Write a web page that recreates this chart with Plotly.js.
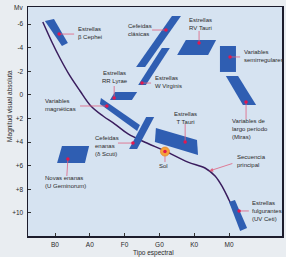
<!DOCTYPE html>
<html>
<head>
<meta charset="utf-8">
<script src="https://cdn.plot.ly/plotly-3.0.1.min.js"></script>
<style>html,body{margin:0;padding:0;background:#e9edf1;}#chart{width:286px;height:257px;}</style>
</head>
<body>
<div id="chart"></div>
<script>
// ---- Data (spectral type index: B0=0 ... M0=5 ; absolute visual magnitude) ----
const spectralTicks = [0, 1, 2, 3, 4, 5];
const spectralLabels = ['B0', 'A0', 'F0', 'G0', 'K0', 'M0'];
const magTicks = [-6, -4, -2, 0, 2, 4, 6, 8, 10];
const magLabels = ['-6', '-4', '-2', '0', '+2', '+4', '+6', '+8', '+10'];

// Main sequence
const msX = [-0.35, -0.09, 0.14, 0.43, 0.72, 1.03, 1.38, 1.72, 2.10, 2.64, 3.16, 3.82, 4.31, 4.60, 4.83, 5.00, 5.14];
const msY = [-6.17, -4.48, -3.12, -1.60, -0.33, 0.94, 1.79, 2.47, 3.31, 4.08, 4.75, 5.69, 6.19, 6.87, 7.89, 8.90, 9.75];

// Sun
const sunX = [3.16];
const sunY = [4.80];

// Variable-star regions (corner points)
const betaCepX = [-0.29, -0.03, 0.37, 0.20];  const betaCepY = [-6.25, -6.42, -4.39, -4.14];
const cefClasX = [3.36, 3.62, 2.59, 2.33];    const cefClasY = [-6.68, -6.68, -2.36, -2.36];
const wVirX = [3.07, 3.30, 2.61, 2.39];       const wVirY = [-3.97, -3.97, -0.83, -0.83];
const rvTauX = [3.76, 4.63, 4.40, 3.51];      const rvTauY = [-4.65, -4.65, -3.38, -3.38];
const semiregX = [4.74, 5.20, 5.20, 4.74];    const semiregY = [-4.14, -4.14, -1.94, -1.94];
const mirasX = [4.91, 5.26, 5.78, 5.40];      const mirasY = [-1.60, -1.60, 0.86, 0.86];
const rrLyrX = [1.72, 2.36, 2.21, 1.58];      const rrLyrY = [-0.24, -0.24, 0.44, 0.44];
const magnetX = [1.32, 2.44, 2.36, 1.29];     const magnetY = [0.27, 2.55, 3.06, 0.77];
const deltaScuX = [2.62, 2.85, 2.36, 2.13];   const deltaScuY = [1.88, 1.88, 4.59, 4.59];
const tTauX = [2.90, 4.08, 4.11, 2.87];       const tTauY = [2.81, 3.82, 5.09, 3.99];
const novasX = [0.20, 0.98, 0.86, 0.06];      const novasY = [4.33, 4.33, 5.77, 5.77];
const uvCetX = [5.00, 5.17, 5.52, 5.32];      const uvCetY = [9.07, 8.90, 11.27, 11.53];

// Red marker dot in each region
const dotX = [0.12, 3.19, 2.50, 4.14, 5.03, 5.49, 1.70, 1.49, 2.24, 3.74, 0.37, 5.29];
const dotY = [-5.15, -5.49, -1.00, -4.39, -3.21, 0.61, 0.27, 0.94, 4.08, 3.99, 5.43, 9.83];

// ---- Labels (text, anchor position, leader line) ----
const FONT = 'Liberation Sans, Arial, sans-serif';
const labels = [
  {t: 'Estrellas<br>β Cephei', x: 0.60, y: -5.28, a: 'left', l: [0.12, -5.15, 0.55, -5.15]},
  {t: 'Cefeidas<br>clásicas', x: 2.04, y: -5.53, a: 'left', l: [3.19, -5.49, 2.79, -5.49]},
  {t: 'Estrellas<br>W Virginis', x: 2.82, y: -1.05, a: 'left', l: [2.50, -1.00, 2.76, -1.00]},
  {t: 'Estrellas<br>RV Tauri', x: 4.17, y: -6.04, a: 'center', l: [4.14, -4.39, 4.14, -5.41]},
  {t: 'Variables<br>semirregulares', x: 5.37, y: -3.25, a: 'left', l: [5.03, -3.21, 5.32, -3.21]},
  {t: 'Variables de<br>largo período<br>(Miras)', x: 5.03, y: 2.93, a: 'left', l: [5.49, 0.61, 5.49, 2.04]},
  {t: 'Estrellas<br>RR Lyrae', x: 1.71, y: -1.55, a: 'center', l: [1.70, 0.27, 1.70, -0.75]},
  {t: 'Variables<br>magnéticas', x: -0.34, y: 0.86, a: 'left', l: [1.49, 0.94, 0.72, 0.94]},
  {t: 'Cefeidas<br>enanas<br>(δ Scuti)', x: 1.09, y: 4.33, a: 'left', l: [2.24, 4.08, 1.81, 4.08]},
  {t: 'Estrellas<br>T Tauri', x: 3.76, y: 1.96, a: 'center', l: [3.74, 3.99, 3.74, 2.47]},
  {t: 'Novas enanas<br>(U Geminorum)', x: -0.34, y: 7.38, a: 'left', l: [0.37, 5.43, 0.34, 6.87]},
  {t: 'Estrellas<br>fulgurantes<br>(UV Ceti)', x: 5.60, y: 9.83, a: 'left', l: [5.29, 9.83, 5.57, 9.83]},
  {t: 'Sol', x: 3.13, y: 6.02, a: 'center', l: [3.16, 5.18, 3.16, 5.69]},
  {t: 'Secuencia<br>principal', x: 5.17, y: 5.64, a: 'left', l: null}
];

const regions = [
  [betaCepX, betaCepY], [cefClasX, cefClasY], [wVirX, wVirY], [rvTauX, rvTauY],
  [semiregX, semiregY], [mirasX, mirasY], [rrLyrX, rrLyrY], [magnetX, magnetY],
  [deltaScuX, deltaScuY], [tTauX, tTauY], [novasX, novasY], [uvCetX, uvCetY]
];

const traces = [];
traces.push({x: msX, y: msY, mode: 'lines', line: {color: '#3a1d5e', width: 1.5, shape: 'spline'}, hoverinfo: 'skip'});
regions.forEach(r => {
  traces.push({x: r[0], y: r[1], mode: 'lines', fill: 'toself', fillcolor: '#2f5eb2',
    line: {width: 0, color: '#2f5eb2'}, hoverinfo: 'skip'});
});
const lx = [], ly = [];
labels.forEach(o => { if (o.l) { lx.push(o.l[0], o.l[2], null); ly.push(o.l[1], o.l[3], null); } });
traces.push({x: lx, y: ly, mode: 'lines', line: {color: '#e0607e', width: 0.8}, hoverinfo: 'skip'});
traces.push({x: sunX, y: sunY, mode: 'markers', marker: {size: 9, color: '#f4a23a', line: {color: '#e8862a', width: 0.8}}, hoverinfo: 'skip'});
traces.push({x: dotX.concat(sunX), y: dotY.concat(sunY), mode: 'markers', marker: {size: 3.5, color: '#e3174e'}, hoverinfo: 'skip'});

const annotations = labels.map(o => ({
  x: o.x, y: o.y, xref: 'x', yref: 'y', text: o.t, showarrow: false,
  xanchor: o.a, yanchor: 'middle', align: o.a,
  font: {family: FONT, size: 6, color: '#2a2a2a'}
}));
annotations.push({x: 4.43, y: 6.45, ax: 5.14, ay: 5.77, xref: 'x', yref: 'y', axref: 'x', ayref: 'y',
  text: '', showarrow: true, arrowhead: 2, arrowsize: 1, arrowwidth: 0.8, arrowcolor: '#e0607e'});
annotations.push({x: -0.071, y: 0.568, xref: 'paper', yref: 'paper', text: 'Magnitud visual absoluta',
  textangle: -90, xanchor: 'center', yanchor: 'middle',
  showarrow: false, font: {family: FONT, size: 6.5, color: '#2a2a2a'}});
annotations.push({x: 0.496, y: -0.074, xref: 'paper', yref: 'paper', text: 'Tipo espectral',
  xanchor: 'center', yanchor: 'middle',
  showarrow: false, font: {family: FONT, size: 6.5, color: '#2a2a2a'}});
annotations.push({x: -0.039, y: 1.0, xref: 'paper', yref: 'paper', text: 'Mv',
  xanchor: 'center', yanchor: 'middle',
  showarrow: false, font: {family: FONT, size: 6.5, color: '#2a2a2a'}});

const layout = {
  width: 286, height: 257,
  margin: {l: 28, r: 4, t: 7, b: 21, pad: 0},
  paper_bgcolor: '#e9edf1', plot_bgcolor: '#d6e3f1',
  showlegend: false,
  xaxis: {range: [-0.776, 6.523], tickvals: spectralTicks, ticktext: spectralLabels,
    ticks: 'inside', ticklen: 3, tickcolor: '#333', showgrid: false, zeroline: false,
    showline: true, mirror: true, linecolor: '#1c1c2c', linewidth: 1.5,
    tickfont: {family: FONT, size: 6.5, color: '#2a2a2a'}, ticklabelstandoff: 2, fixedrange: true},
  yaxis: {range: [11.95, -7.44], tickvals: magTicks, ticktext: magLabels,
    ticks: 'inside', ticklen: 3, tickcolor: '#333', showgrid: false, zeroline: false,
    showline: true, mirror: true, linecolor: '#1c1c2c', linewidth: 1.5,
    tickfont: {family: FONT, size: 6.5, color: '#2a2a2a'}, ticklabelstandoff: 2, fixedrange: true},
  annotations: annotations
};

Plotly.newPlot('chart', traces, layout, {staticPlot: true, displayModeBar: false});
</script>
</body>
</html>
